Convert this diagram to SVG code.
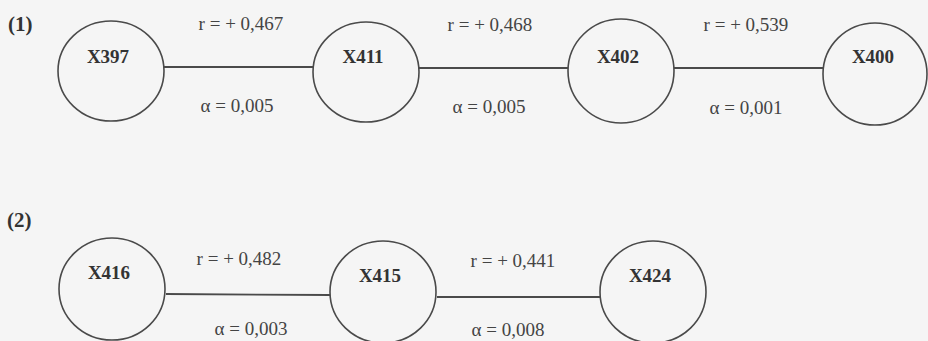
<svg xmlns="http://www.w3.org/2000/svg" width="928" height="341" viewBox="0 0 928 341">
<style>
.n{fill:none;stroke:#4a4a4a;stroke-width:1.6}
.e{stroke:#4a4a4a;stroke-width:1.8}
.lbl{font-family:"Liberation Serif","Times New Roman",serif;font-weight:bold;font-size:19px;fill:#333;text-anchor:middle}
.t{font-family:"Liberation Serif","Times New Roman",serif;font-size:19px;fill:#444;text-anchor:middle}
.h{font-family:"Liberation Serif","Times New Roman",serif;font-weight:bold;font-size:21px;fill:#333}
</style>
<rect width="928" height="341" fill="#f5f5f5"/>
<text class="h" x="8" y="31">(1)</text>
<text class="h" x="7" y="227">(2)</text>
<g id="connectors">
<line class="e" x1="164" y1="67" x2="313" y2="67"/>
<line class="e" x1="419" y1="68" x2="568" y2="68"/>
<line class="e" x1="674" y1="68" x2="823" y2="68"/>
<line class="e" x1="166" y1="294" x2="330" y2="295"/>
<line class="e" x1="437" y1="297" x2="600" y2="297"/>
<text class="t" x="241" y="30">r = + 0,467</text>
<text class="t" x="237" y="112">α = 0,005</text>
<text class="t" x="490" y="31">r = + 0,468</text>
<text class="t" x="489" y="113">α = 0,005</text>
<text class="t" x="746" y="31">r = + 0,539</text>
<text class="t" x="746" y="114">α = 0,001</text>
<text class="t" x="239" y="265">r = + 0,482</text>
<text class="t" x="251" y="335">α = 0,003</text>
<text class="t" x="513" y="267">r = + 0,441</text>
<text class="t" x="508" y="336">α = 0,008</text>
</g>
<g id="X397"><ellipse class="n" cx="111" cy="71" rx="53" ry="50"/><text class="lbl" x="108" y="63">X397</text></g>
<g id="X411"><ellipse class="n" cx="366" cy="72" rx="53" ry="50"/><text class="lbl" x="363" y="63">X411</text></g>
<g id="X402"><ellipse class="n" cx="621" cy="71" rx="53" ry="52"/><text class="lbl" x="618" y="63">X402</text></g>
<g id="X400"><ellipse class="n" cx="875" cy="74" rx="52" ry="51"/><text class="lbl" x="873" y="63">X400</text></g>
<g id="X416"><ellipse class="n" cx="112" cy="289" rx="53" ry="51"/><text class="lbl" x="109" y="279">X416</text></g>
<g id="X415"><ellipse class="n" cx="383" cy="292" rx="53" ry="51"/><text class="lbl" x="380" y="282">X415</text></g>
<g id="X424"><ellipse class="n" cx="653" cy="292" rx="53" ry="51"/><text class="lbl" x="650" y="282">X424</text></g>
</svg>
